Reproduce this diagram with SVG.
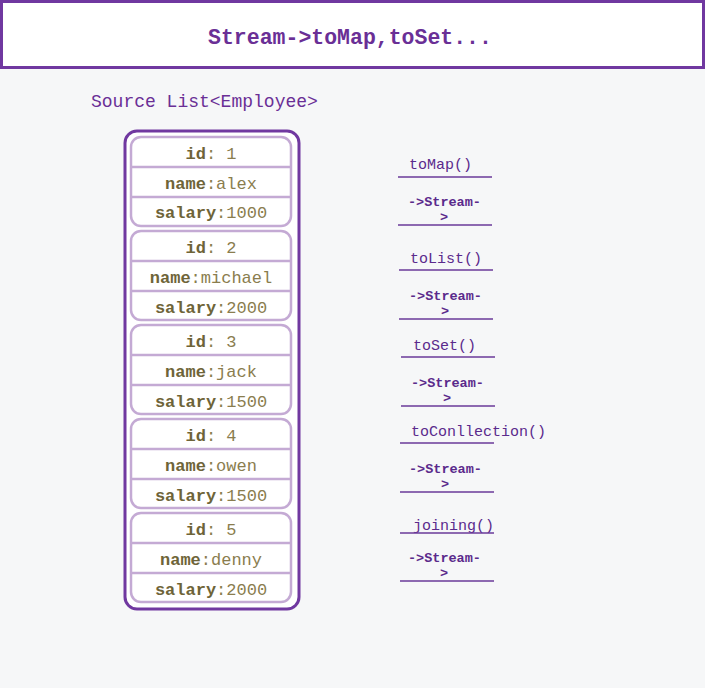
<svg xmlns="http://www.w3.org/2000/svg" width="705" height="688" viewBox="0 0 705 688">
<style>
.t{font-family:"Liberation Mono","DejaVu Sans Mono",monospace;fill:#6a2f96}
.card{fill:#fff;stroke:#c4aad4;stroke-width:2.5}
.sep{stroke:#c4aad4;stroke-width:2.5}
.f{font-family:"Liberation Mono","DejaVu Sans Mono",monospace;font-size:17px;text-anchor:middle;fill:#8a7d4e}
.k{font-weight:bold;fill:#6e6438}
.m{font-family:"Liberation Mono","DejaVu Sans Mono",monospace;fill:#5b2a8c;font-size:15px}
.s{font-family:"Liberation Mono","DejaVu Sans Mono",monospace;fill:#5b2a8c;font-size:13.5px;font-weight:bold}
.u{stroke:#6a3a9a;stroke-width:1.3}
</style>
<rect width="705" height="688" fill="#f6f7f8"/>
<g id="title">
<rect x="1.5" y="1.5" width="702" height="66" fill="#fff" stroke="#7038a0" stroke-width="3"/>
<text class="t" x="350" y="44" font-size="21.5" font-weight="bold" text-anchor="middle">Stream-&gt;toMap,toSet...</text>
</g>
<g id="source-label"><text class="t" x="91" y="107" font-size="18">Source List&lt;Employee&gt;</text></g>
<g id="list">
<rect x="125" y="131" width="174" height="478" rx="12" fill="#fff" stroke="#7038a0" stroke-width="3"/>
</g>
<g id="emp1">
<rect class="card" x="131" y="137" width="160" height="89" rx="10"/>
<line class="sep" x1="131" y1="167" x2="291" y2="167"/><line class="sep" x1="131" y1="197" x2="291" y2="197"/>
<text class="f" x="211" y="159"><tspan class="k">id</tspan>: 1</text>
<text class="f" x="211" y="189"><tspan class="k">name</tspan>:alex</text>
<text class="f" x="211" y="218"><tspan class="k">salary</tspan>:1000</text>
</g>
<g id="emp2">
<rect class="card" x="131" y="231" width="160" height="89" rx="10"/>
<line class="sep" x1="131" y1="261" x2="291" y2="261"/><line class="sep" x1="131" y1="291" x2="291" y2="291"/>
<text class="f" x="211" y="253"><tspan class="k">id</tspan>: 2</text>
<text class="f" x="211" y="283"><tspan class="k">name</tspan>:michael</text>
<text class="f" x="211" y="313"><tspan class="k">salary</tspan>:2000</text>
</g>
<g id="emp3">
<rect class="card" x="131" y="325" width="160" height="89" rx="10"/>
<line class="sep" x1="131" y1="355" x2="291" y2="355"/><line class="sep" x1="131" y1="385" x2="291" y2="385"/>
<text class="f" x="211" y="347"><tspan class="k">id</tspan>: 3</text>
<text class="f" x="211" y="377"><tspan class="k">name</tspan>:jack</text>
<text class="f" x="211" y="407"><tspan class="k">salary</tspan>:1500</text>
</g>
<g id="emp4">
<rect class="card" x="131" y="419" width="160" height="89" rx="10"/>
<line class="sep" x1="131" y1="449" x2="291" y2="449"/><line class="sep" x1="131" y1="479" x2="291" y2="479"/>
<text class="f" x="211" y="441"><tspan class="k">id</tspan>: 4</text>
<text class="f" x="211" y="471"><tspan class="k">name</tspan>:owen</text>
<text class="f" x="211" y="501"><tspan class="k">salary</tspan>:1500</text>
</g>
<g id="emp5">
<rect class="card" x="131" y="513" width="160" height="89" rx="10"/>
<line class="sep" x1="131" y1="543" x2="291" y2="543"/><line class="sep" x1="131" y1="573" x2="291" y2="573"/>
<text class="f" x="211" y="535"><tspan class="k">id</tspan>: 5</text>
<text class="f" x="211" y="565"><tspan class="k">name</tspan>:denny</text>
<text class="f" x="211" y="595"><tspan class="k">salary</tspan>:2000</text>
</g>
<g id="toMap">
<text class="m" x="409" y="169">toMap()</text><line class="u" x1="398" y1="177" x2="492" y2="177"/>
<text class="s" x="408" y="206">-&gt;Stream-</text><text class="s" x="440" y="221">&gt;</text><line class="u" x1="398" y1="225" x2="492" y2="225"/>
</g>
<g id="toList">
<text class="m" x="410" y="263">toList()</text><line class="u" x1="399" y1="270" x2="493" y2="270"/>
<text class="s" x="409" y="300">-&gt;Stream-</text><text class="s" x="441" y="315">&gt;</text><line class="u" x1="399" y1="319" x2="493" y2="319"/>
</g>
<g id="toSet">
<text class="m" x="413" y="350">toSet()</text><line class="u" x1="401" y1="357" x2="495" y2="357"/>
<text class="s" x="411" y="387">-&gt;Stream-</text><text class="s" x="443" y="402">&gt;</text><line class="u" x1="401" y1="406" x2="495" y2="406"/>
</g>
<g id="toConllection">
<text class="m" x="411" y="436">toConllection()</text><line class="u" x1="400" y1="443" x2="494" y2="443"/>
<text class="s" x="409" y="473">-&gt;Stream-</text><text class="s" x="441" y="488">&gt;</text><line class="u" x1="400" y1="492" x2="494" y2="492"/>
</g>
<g id="joining">
<text class="m" x="413" y="530">joining()</text><line class="u" x1="400" y1="533" x2="494" y2="533"/>
<text class="s" x="408" y="562">-&gt;Stream-</text><text class="s" x="440" y="577">&gt;</text><line class="u" x1="400" y1="581" x2="494" y2="581"/>
</g>
<g id="connectors"></g>
</svg>
